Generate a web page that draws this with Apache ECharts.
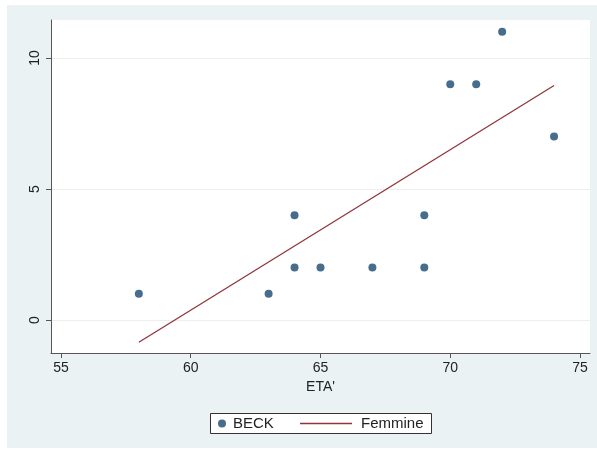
<!DOCTYPE html>
<html>
<head>
<meta charset="utf-8">
<script src="https://cdn.jsdelivr.net/npm/echarts@6/dist/echarts.min.js"></script>
<style>
  html, body { margin: 0; padding: 0; background: #fff; }
  #chart { position: absolute; left: 7px; top: 5px; width: 590px; height: 443px; }
</style>
</head>
<body>
<div id="chart"></div>
<script>
// data
var eta = [58, 63, 64, 64, 65, 67, 69, 69, 70, 71, 72, 74];
var beck = [1, 1, 4, 2, 2, 2, 4, 2, 9, 9, 11, 7];
var fitX = [58, 74];
var fitY = [-0.85, 8.95];
var xTicks = [55, 60, 65, 70, 75];
var yTicks = [0, 5, 10];

var scatterData = eta.map(function (x, i) { return [x, beck[i]]; });
var lineData = fitX.map(function (x, i) { return [x, fitY[i]]; });

var font = "'Liberation Sans', Arial, sans-serif";
var chart = echarts.init(document.getElementById("chart"));
chart.setOption({
  backgroundColor: "#eaf2f3",
  animation: false,
  textStyle: { fontFamily: font },
  grid: {
    left: 44,
    top: 15,
    right: 7,
    bottom: 95,
    show: true,
    backgroundColor: "#fff",
    borderWidth: 0,
  },
  xAxis: {
    type: "value",
    min: 54.615,
    max: 75.385,
    name: "ETA'",
    nameLocation: "middle",
    nameGap: 24,
    nameTextStyle: { color: "#222", fontSize: 14, fontFamily: font },
    axisLine: { show: true, onZero: false, lineStyle: { color: "#555", width: 1 } },
    axisTick: { show: true, length: 5, customValues: xTicks, lineStyle: { color: "#555" } },
    axisLabel: { customValues: xTicks, color: "#222", fontSize: 14, margin: 8, fontFamily: font },
    splitLine: { show: false },
  },
  yAxis: {
    type: "value",
    min: -1.26,
    max: 11.45,
    axisLine: { show: true, onZero: false, lineStyle: { color: "#555", width: 1 } },
    axisTick: { show: true, length: 5, customValues: yTicks, lineStyle: { color: "#555" } },
    axisLabel: { customValues: yTicks, color: "#222", fontSize: 14, rotate: 90, margin: 9, fontFamily: font },
    splitLine: { show: true, lineStyle: { color: "#eeeeee", width: 1 } },
  },
  legend: [
    {
      left: 211,
      top: 411,
      itemWidth: 8,
      itemHeight: 8,
      itemGap: 0,
      padding: 0,
      data: [{ name: "BECK", icon: "circle" }],
      textStyle: { color: "#222", fontSize: 15, fontFamily: font, padding: [0, 0, 0, 2] },
    },
    {
      left: 293,
      top: 411,
      itemWidth: 52,
      itemHeight: 1.5,
      padding: 0,
      data: [{ name: "Femmine", icon: "rect", itemStyle: { color: "#90353b" } }],
      textStyle: { color: "#222", fontSize: 15, fontFamily: font, padding: [0, 0, 0, 4] },
    },
  ],
  graphic: [
    {
      type: "rect",
      left: 203,
      top: 408,
      z: -1,
      shape: { width: 221, height: 20 },
      style: { fill: "#fff", stroke: "#333", lineWidth: 1 },
    },
  ],
  series: [
    {
      name: "BECK",
      type: "scatter",
      data: scatterData,
      symbol: "circle",
      symbolSize: 8,
      itemStyle: { color: "#1a476f" },
    },
    {
      name: "Femmine",
      type: "line",
      data: lineData,
      symbol: "none",
      lineStyle: { color: "#90353b", width: 1.3 },
      itemStyle: { color: "#90353b" },
    },
  ],
});
</script>
</body>
</html>
